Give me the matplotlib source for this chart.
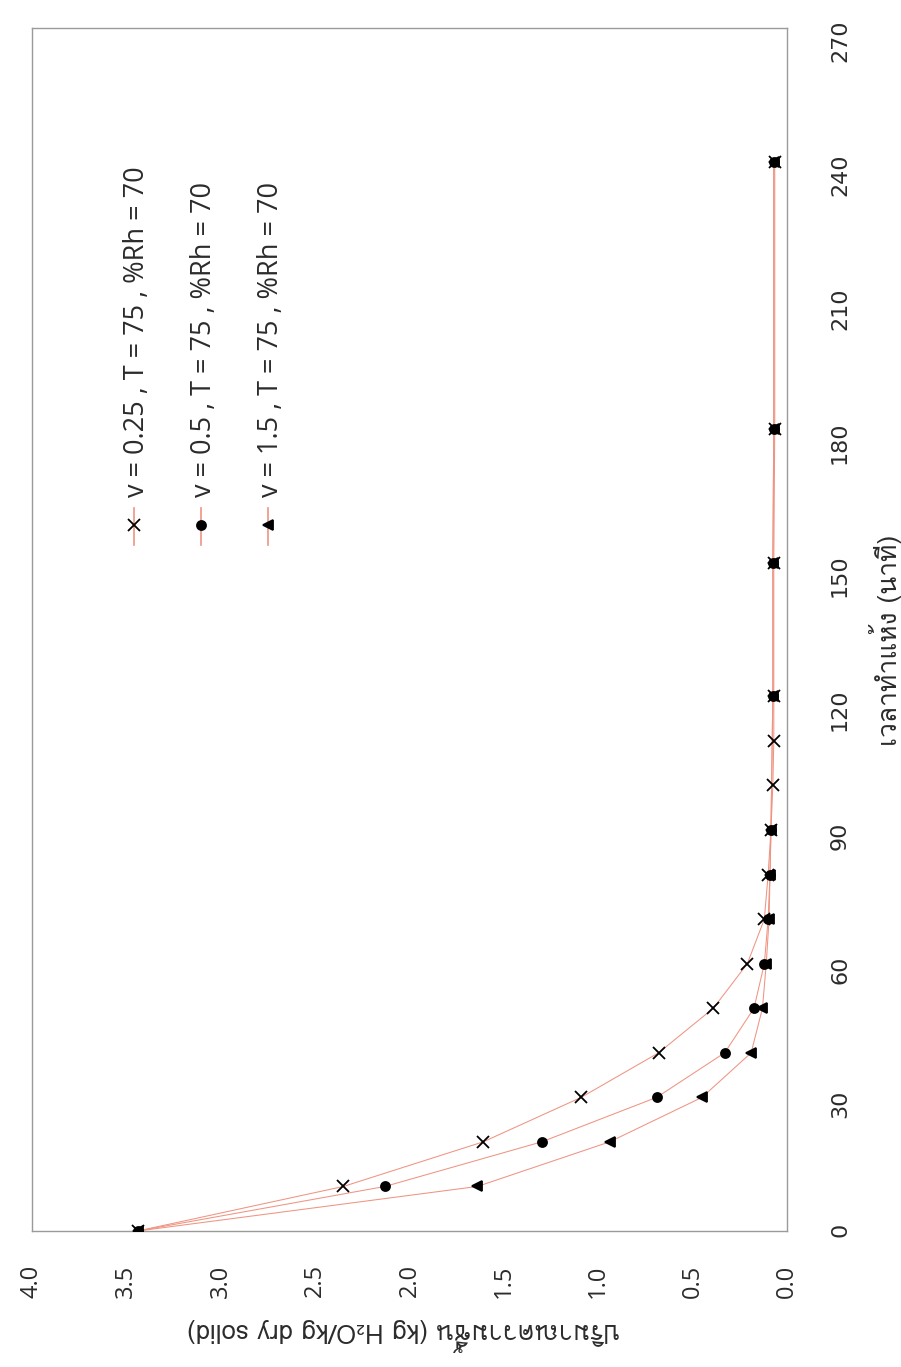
import numpy as np
import matplotlib
matplotlib.use("Agg")
import matplotlib.pyplot as plt

# drying time (min) and moisture content (kg H2O / kg dry solid)
time_a = [0, 10, 20, 30, 40, 50, 60, 70, 80, 90, 100, 110, 120, 150, 180, 240]
moist_a = [3.44, 2.35, 1.61, 1.09, 0.68, 0.39, 0.21, 0.12, 0.10, 0.085, 0.075, 0.07, 0.07, 0.07, 0.065, 0.065]

time_b = [0, 10, 20, 30, 40, 50, 60, 70, 80, 90, 120, 150, 180, 240]
moist_b = [3.44, 2.13, 1.30, 0.69, 0.33, 0.175, 0.12, 0.10, 0.09, 0.085, 0.075, 0.075, 0.07, 0.07]

time_c = [0, 10, 20, 30, 40, 50, 60, 70, 80, 90, 120, 150, 180, 240]
moist_c = [3.44, 1.64, 0.94, 0.45, 0.19, 0.13, 0.11, 0.095, 0.09, 0.085, 0.075, 0.075, 0.07, 0.07]

labels = ["v = 0.25 , T = 75 , %Rh = 70",
          "v = 0.5 , T = 75 , %Rh = 70",
          "v = 1.5 , T = 75 , %Rh = 70"]

moist_ticks = np.arange(0, 4.01, 0.5)
time_ticks = np.arange(0, 271, 30)

thai = ["Loma", "IBM Plex Sans Thai Looped", "Noto Sans Thai", "DejaVu Sans"]
narrow = ["Liberation Sans Narrow", "DejaVu Sans"]
sans = ["Open Sans", "DejaVu Sans"]
line_col = "#ef9482"
txt_col = "#2b2b2b"

fig = plt.figure(figsize=(9.01, 13.67), dpi=100)
ax = fig.add_axes([32 / 901, 1 - 1231 / 1367, 755 / 901, 1203 / 1367])

series = [(moist_a, time_a, "x", 8), (moist_b, time_b, "o", 6.5), (moist_c, time_c, "<", 7.5)]
for m, t, mk, ms in series:
    ax.plot(m, t, color=line_col, lw=0.75, zorder=2)
    ax.plot(m, t, ls="none", marker=mk, ms=ms, color="black", mew=1.3, zorder=3)

# page is turned sideways: moisture runs right-to-left, time runs upward
ax.set_xlim(4.0, 0.0)
ax.set_ylim(0, 270)
ax.set_xticks(moist_ticks)
ax.set_xticklabels([f"{v:.1f}" for v in moist_ticks], rotation=90,
                   fontsize=17, color=txt_col, family=sans)
ax.yaxis.tick_right()
ax.set_yticks(time_ticks)
ax.set_yticklabels([str(v) for v in time_ticks], rotation=90,
                   fontsize=16, color=txt_col, family=narrow)
ax.tick_params(axis="x", length=0, pad=24)
ax.tick_params(axis="y", length=0, pad=31)
for s in ax.spines.values():
    s.set_color("#9a9a9a")
    s.set_linewidth(1.0)

# legend laid out by hand so it reads along the turned page
leg_x = [134, 201, 268]
for (m, t, mk, ms), lab, px in zip(series, labels, leg_x):
    fx = (px - 32) / 755
    ax.plot([fx, fx], [(1231 - 545) / 1203, (1231 - 508) / 1203], color=line_col,
            lw=1.2, transform=ax.transAxes, clip_on=False)
    ax.plot([fx], [(1231 - 525) / 1203], marker=mk, ms=ms, color="black", mew=1.3,
            transform=ax.transAxes, clip_on=False)
    ax.text(fx + 0.004, (1231 - 497) / 1203, lab, rotation=90, ha="center", va="bottom",
            fontsize=19.5, color=txt_col, transform=ax.transAxes, family=sans)

fig.text(404 / 901, 1 - 1335 / 1367, "ปริมาณความชื้น (kg H₂O/kg dry solid)", rotation=180,
         ha="center", va="center", fontsize=18.5, color=txt_col, family=thai)
fig.text(885 / 901, 1 - 640 / 1367, "เวลาทำแห้ง (นาที)", rotation=90,
         ha="center", va="center", fontsize=19, color=txt_col, family=thai)

fig.savefig("out.png", dpi=100, facecolor="white")
